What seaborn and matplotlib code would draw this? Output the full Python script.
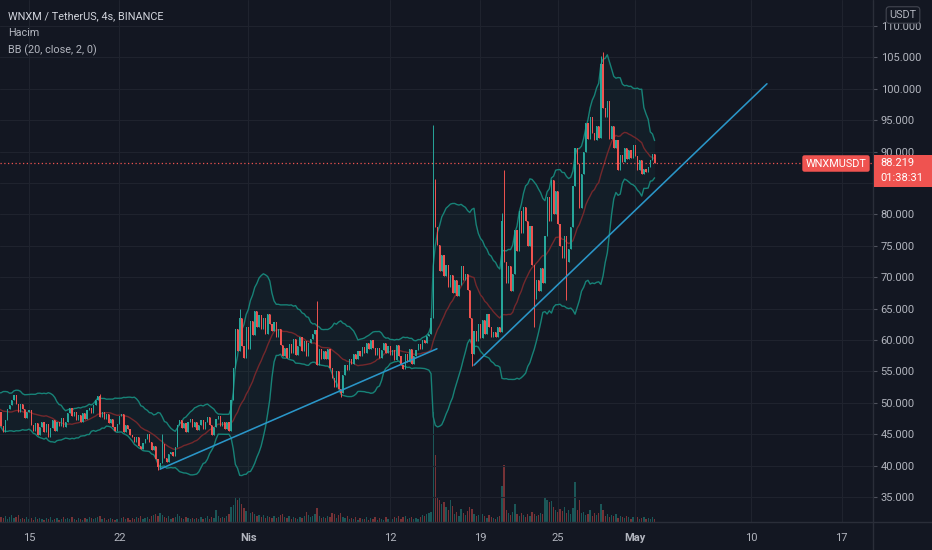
import numpy as np
import pandas as pd
import matplotlib
matplotlib.use("Agg")
import matplotlib.pyplot as plt
import matplotlib.dates as mdates
from matplotlib.patches import Rectangle
from matplotlib.lines import Line2D
import seaborn as sns

BG = "#131722"
GRID = "#1f232e"
SEP = "#2a2e39"
TEXT = "#b2b5be"
UP = "#26a69a"
DOWN = "#ef5350"

# 4h candles, first one is 2021-03-09 12:00 (20 candles sit left of the visible window)
first_candle = "2021-03-09 12:00"

close_warmup = [50.2, 49.1, 48.0, 49.5, 51.0, 50.3, 48.7, 47.6, 48.9, 50.8,
                51.5, 50.0, 48.3, 47.2, 48.6, 49.8, 48.1, 46.9, 47.8, 48.6]

close_march = [
    46.3,                                   # 12 20:00
    45.4, 47.3, 49.0, 49.6, 50.5, 51.2,     # 13
    49.8, 48.5, 49.8, 49.0, 47.6, 48.6,     # 14
    48.9, 46.5, 45.5, 46.8, 44.9, 46.2,     # 15
    46.9, 45.4, 46.6, 44.6, 46.0, 47.2,     # 16
    45.5, 47.0, 46.3, 47.6, 46.1, 47.0,     # 17
    48.4, 49.2, 47.9, 48.6, 47.2, 48.0,     # 18
    46.9, 48.3, 47.5, 48.8, 49.2, 48.4,     # 19
    49.6, 50.5, 51.1, 47.8, 48.6, 47.4,     # 20
    48.2, 46.8, 47.5, 46.2, 45.5, 46.6,     # 21
    47.9, 48.2, 45.4, 46.5, 45.8, 44.9,     # 22
    44.6, 43.8, 44.5, 43.2, 42.6, 43.6,     # 23
    44.2, 45.1, 43.8, 42.5, 43.2, 41.0,     # 24
    39.7, 40.4, 43.5, 41.2, 40.6, 41.8,     # 25
    42.2, 41.5, 43.0, 46.4, 47.3, 46.0,     # 26
    46.8, 45.4, 46.9, 47.5, 46.2, 47.0,     # 27
    45.6, 46.4, 47.2, 45.8, 46.9, 47.8,     # 28
    46.5, 44.9, 46.1, 47.5, 47.9, 46.3,     # 29
    47.0, 45.8, 46.9, 45.5, 50.5, 55.5,     # 30
    61.8, 58.2, 63.5, 59.0, 57.2, 62.0,     # 31
]

close_april = [
    58.5, 63.0, 60.8, 64.6, 62.0, 64.0,     # 1
    61.8, 63.5, 61.0, 64.2, 62.5, 61.4,     # 2
    62.8, 60.5, 61.8, 59.2, 57.5, 58.8,     # 3
    57.2, 59.4, 58.0, 60.2, 57.6, 59.0,     # 4
    60.4, 58.3, 59.8, 57.5, 59.6, 60.2,     # 5
    61.0, 61.6, 56.0, 58.5, 57.0, 58.3,     # 6
    57.0, 58.6, 55.5, 54.0, 52.5, 55.0,     # 7
    52.2, 51.6, 54.5, 56.0, 55.3, 57.0,     # 8
    56.2, 57.8, 56.9, 58.2, 57.4, 58.9,     # 9
    58.0, 59.6, 58.5, 60.0, 58.8, 57.6,     # 10
    58.7, 57.2, 58.4, 59.5, 57.9, 59.0,     # 11
    57.6, 58.4, 56.8, 59.2, 57.5, 56.0,     # 12
    55.4, 57.8, 56.5, 58.6, 56.2, 57.5,     # 13
    58.4, 59.3, 58.6, 60.0, 59.5, 60.6,     # 14
    61.0, 63.5, 84.5, 78.0, 75.2, 71.0,     # 15
    73.5, 70.2, 72.0, 68.5, 70.4, 67.5,     # 16
    69.5, 67.0, 68.8, 71.8, 69.6, 70.5,     # 17
    68.0, 63.5, 57.8, 61.5, 59.8, 62.5,     # 18
    60.3, 63.2, 61.0, 64.2, 62.0, 60.5,     # 19
    61.2, 60.4, 62.0, 61.3, 79.0, 72.5,     # 20
    69.0, 71.8, 67.8, 70.5, 77.5, 74.2,     # 21
    80.5, 77.0, 81.2, 79.0, 75.0, 78.2,     # 22
    72.0, 66.5, 69.5, 67.8, 71.5, 69.0,     # 23
    76.5, 82.8, 79.0, 85.5, 80.0, 83.8,     # 24
    78.5, 75.0, 73.0, 76.5, 72.5, 74.5,     # 25
    78.0, 84.5, 90.5, 88.0, 81.0, 86.5,     # 26
    90.0, 94.5, 92.0, 95.5, 93.0, 91.8,     # 27
    94.0, 92.2, 104.0, 97.0, 95.5, 98.0,    # 28
    92.0, 94.0, 90.5, 91.8, 87.0, 89.5,     # 29
    88.3, 90.5, 88.8, 90.2, 89.0, 91.0,     # 30
]

close_may = [
    89.3, 87.0, 88.6, 86.5, 87.2, 86.7,     # 1
    87.5, 88.7, 89.6, 88.219,               # 2
]

# wicks that stick out of the bodies
wick_high = {
    "2021-03-20 12:00": 51.4,
    "2021-03-25 08:00": 45.1,
    "2021-03-31 08:00": 64.9,
    "2021-04-06 08:00": 66.2,
    "2021-04-15 08:00": 94.3,
    "2021-04-15 12:00": 85.6,
    "2021-04-20 16:00": 80.2,
    "2021-04-20 20:00": 87.0,
    "2021-04-28 08:00": 105.2,
    "2021-04-28 12:00": 105.9,
}
wick_low = {
    "2021-03-25 00:00": 39.3,
    "2021-03-25 04:00": 39.4,
    "2021-04-08 04:00": 50.9,
    "2021-04-18 08:00": 55.9,
    "2021-04-23 04:00": 62.0,
    "2021-04-25 16:00": 66.4,
}

vol_warmup = [4, 3, 5, 4, 6, 3, 4, 5, 3, 4, 6, 5, 3, 4, 5, 4, 3, 5, 4, 6]

vol_march = [
    5,
    4, 6, 3, 5, 7, 4,        # 13
    5, 7, 3, 4, 3, 5,        # 14
    3, 4, 2, 5, 3, 4,        # 15
    3, 2, 4, 3, 5, 2,        # 16
    3, 4, 2, 3, 5, 3,        # 17
    4, 3, 5, 3, 2, 4,        # 18
    3, 2, 4, 3, 5, 4,        # 19
    3, 4, 5, 6, 3, 4,        # 20
    2, 3, 4, 3, 2, 3,        # 21
    3, 4, 5, 3, 4, 2,        # 22
    4, 3, 5, 4, 6, 3,        # 23
    4, 5, 3, 6, 7, 8,        # 24
    6, 9, 7, 5, 4, 6,        # 25
    3, 4, 5, 8, 6, 4,        # 26
    3, 5, 4, 3, 4, 3,        # 27
    4, 3, 5, 3, 4, 6,        # 28
    3, 5, 4, 12, 6, 4,       # 29
    5, 4, 6, 8, 15, 17,      # 30
    25, 22, 24, 18, 14, 11,  # 31
]

vol_april = [
    12, 9, 10, 8, 6, 7,      # 1
    5, 7, 4, 6, 5, 4,        # 2
    6, 4, 5, 7, 8, 5,        # 3
    4, 6, 3, 5, 4, 3,        # 4
    5, 4, 6, 10, 7, 5,       # 5
    6, 8, 14, 6, 4, 5,       # 6
    4, 6, 5, 9, 8, 4,        # 7
    7, 9, 5, 4, 6, 3,        # 8
    4, 3, 5, 2, 4, 3,        # 9
    3, 5, 2, 4, 3, 5,        # 10
    2, 4, 3, 2, 5, 3,        # 11
    4, 3, 5, 4, 6, 3,        # 12
    5, 6, 3, 4, 5, 3,        # 13
    4, 3, 5, 7, 6, 8,        # 14
    9, 10, 110, 67, 25, 22,  # 15
    18, 20, 15, 12, 22, 16,  # 16
    8, 10, 6, 13, 9, 7,      # 17
    11, 15, 13, 8, 6, 7,     # 18
    5, 8, 6, 4, 7, 5,        # 19
    4, 3, 5, 6, 36, 57,      # 20
    12, 9, 7, 10, 18, 8,     # 21
    6, 9, 7, 5, 8, 6,        # 22
    10, 8, 6, 7, 9, 8,       # 23
    25, 22, 20, 21, 15, 12,  # 24
    10, 13, 11, 15, 9, 12,   # 25
    8, 14, 40, 12, 22, 9,    # 26
    10, 7, 8, 12, 6, 9,      # 27
    7, 9, 18, 12, 6, 8,      # 28
    5, 7, 6, 8, 4, 6,        # 29
    5, 4, 6, 5, 3, 5,        # 30
]

vol_may = [4, 5, 3, 4, 5, 3, 4, 3, 5, 3]

# hand drawn trend lines
trend1_time = ["2021-03-25 04:00", "2021-04-15 15:00"]
trend1_price = [39.45, 58.6]
trend2_time = ["2021-04-18 12:00", "2021-05-11 05:00"]
trend2_price = [56.0, 100.8]

tick_dates = ["2021-03-15", "2021-03-22", "2021-04-01", "2021-04-12", "2021-04-19",
              "2021-04-25", "2021-05-01", "2021-05-10", "2021-05-17"]
tick_labels = ["15", "22", "Nis", "12", "19", "25", "May", "10", "17"]
price_ticks = [35, 40, 45, 50, 55, 60, 65, 70, 75, 80, 85, 90, 95, 100, 105, 110]

last_price = 88.219
countdown = "01:38:31"

# ---------------------------------------------------------------------------
closes = close_warmup + close_march + close_april + close_may
vols = vol_warmup + vol_march + vol_april + vol_may
times = pd.date_range(first_candle, periods=len(closes), freq="4h")

df = pd.DataFrame({"time": times, "close": closes, "volume": vols})
df["open"] = df["close"].shift(1).fillna(df["close"].iloc[0])
df["high"] = df[["open", "close"]].max(axis=1)
df["low"] = df[["open", "close"]].min(axis=1)
for k, v in wick_high.items():
    df.loc[df["time"] == pd.Timestamp(k), "high"] = v
for k, v in wick_low.items():
    df.loc[df["time"] == pd.Timestamp(k), "low"] = v
df["x"] = mdates.date2num(df["time"])
df["up"] = df["close"] >= df["open"]

# Bollinger Bands (20, close, 2)
df["basis"] = df["close"].rolling(20).mean()
sd = df["close"].rolling(20).std(ddof=0)
df["upper"] = df["basis"] + 2 * sd
df["lower"] = df["basis"] - 2 * sd

sns.set_theme(style="dark", rc={
    "axes.facecolor": BG, "figure.facecolor": BG, "axes.edgecolor": SEP,
    "text.color": TEXT, "xtick.color": TEXT, "ytick.color": TEXT,
})
plt.rcParams["font.family"] = ["Roboto", "DejaVu Sans"]

W, H = 932, 550
fig = plt.figure(figsize=(W / 100, H / 100), dpi=100)
ax = fig.add_axes([0, 28 / H, 873 / W, 522 / H])
ax2 = ax.twinx()
ax.set_zorder(ax2.get_zorder() + 1)
ax.patch.set_visible(False)

base = mdates.date2num(pd.Timestamp("2021-03-15"))
xlim = (base - 2.248, base + 65.43)

# volume
step = 1 / 6
vcol = [UP if u else DOWN for u in df["up"]]
ax2.bar(df["x"], df["volume"], width=0.6 * step, color=vcol, alpha=0.45, linewidth=0)
ax2.set_ylim(0, df["volume"].max() * 4.75)
ax2.set_yticks([])
for s in ax2.spines.values():
    s.set_visible(False)

# bands
ax.fill_between(df["x"], df["lower"], df["upper"], color="#1f9c8c", alpha=0.06, linewidth=0)
sns.lineplot(data=df, x="x", y="upper", ax=ax, color="#178277", lw=1.0, legend=False)
sns.lineplot(data=df, x="x", y="lower", ax=ax, color="#178277", lw=1.0, legend=False)
sns.lineplot(data=df, x="x", y="basis", ax=ax, color="#73282c", lw=1.0, legend=False)

# candles
ax.vlines(df["x"], df["low"], df["high"], colors=vcol, lw=0.7, zorder=3)
body = (df["close"] - df["open"]).abs().clip(lower=0.15)
ax.bar(df["x"], body, bottom=df[["open", "close"]].min(axis=1), width=0.55 * step,
       color=vcol, linewidth=0, zorder=3)

# trend lines
ax.plot(mdates.date2num(pd.to_datetime(trend1_time)), trend1_price, color="#2a96c8", lw=1.15, zorder=4)
ax.plot(mdates.date2num(pd.to_datetime(trend2_time)), trend2_price, color="#2a96c8", lw=1.15, zorder=4)

# last price line
ax.axhline(last_price, color=DOWN, lw=0.9, ls=(0, (1, 2)), zorder=2)

ax.set_xlim(*xlim)
ax.set_ylim(31.02, 114.14)
ax.set_xlabel("")
ax.set_ylabel("")
ax.set_xticks(mdates.date2num(pd.to_datetime(tick_dates)))
ax.set_xticklabels(tick_labels)
for lab in ax.get_xticklabels():
    if lab.get_text() in ("Nis", "May"):
        lab.set_fontweight("bold")
ax.yaxis.tick_right()
ax.set_yticks(price_ticks)
ax.set_yticklabels([f"{p:.3f}" for p in price_ticks])
ax.tick_params(axis="y", length=3, width=0.8, color="#50535e", pad=2.5, labelsize=8, labelcolor=TEXT)
ax.tick_params(axis="x", length=0, pad=8, labelsize=8, labelcolor=TEXT)
ax.grid(True, color=GRID, lw=0.8)
ax.set_axisbelow(True)
for s in ax.spines.values():
    s.set_visible(False)

# pane separators
fig.add_artist(Line2D([873 / W, 873 / W], [0, 1], color=SEP, lw=1, transform=fig.transFigure))
fig.add_artist(Line2D([0, 1], [28 / H, 28 / H], color=SEP, lw=1, transform=fig.transFigure))

# header
fig.text(8 / W, 1 - 16 / H, "WNXM / TetherUS, 4s, BINANCE", color="#d1d4dc", fontsize=7.8, va="center")
fig.text(8 / W, 1 - 33 / H, "Hacim", color=TEXT, fontsize=7.8, va="center")
fig.text(8 / W, 1 - 50 / H, "BB (20, close, 2, 0)", color=TEXT, fontsize=7.8, va="center")

# price labels
fig.text(836 / W, 1 - 163.5 / H, "WNXMUSDT", color="white", fontsize=7.8, ha="center", va="center",
         bbox=dict(boxstyle="round,pad=0.3,rounding_size=0.2", fc=DOWN, ec="none"), zorder=6)
fig.add_artist(Rectangle((874 / W, 1 - 187 / H), 58 / W, 32 / H, transform=fig.transFigure,
                         fc=DOWN, ec="none", zorder=5))
fig.text(880 / W, 1 - 163 / H, f"{last_price:.3f}", color="white", fontsize=8, va="center", zorder=6)
fig.text(880 / W, 1 - 178 / H, countdown, color="white", fontsize=8, va="center", zorder=6)
fig.text(903 / W, 1 - 15 / H, "USDT", color=TEXT, fontsize=7.8, ha="center", va="center",
         bbox=dict(boxstyle="round,pad=0.3", fc=BG, ec="#434651", lw=0.8), zorder=6)

fig.savefig("out.png", dpi=100, facecolor=BG)
